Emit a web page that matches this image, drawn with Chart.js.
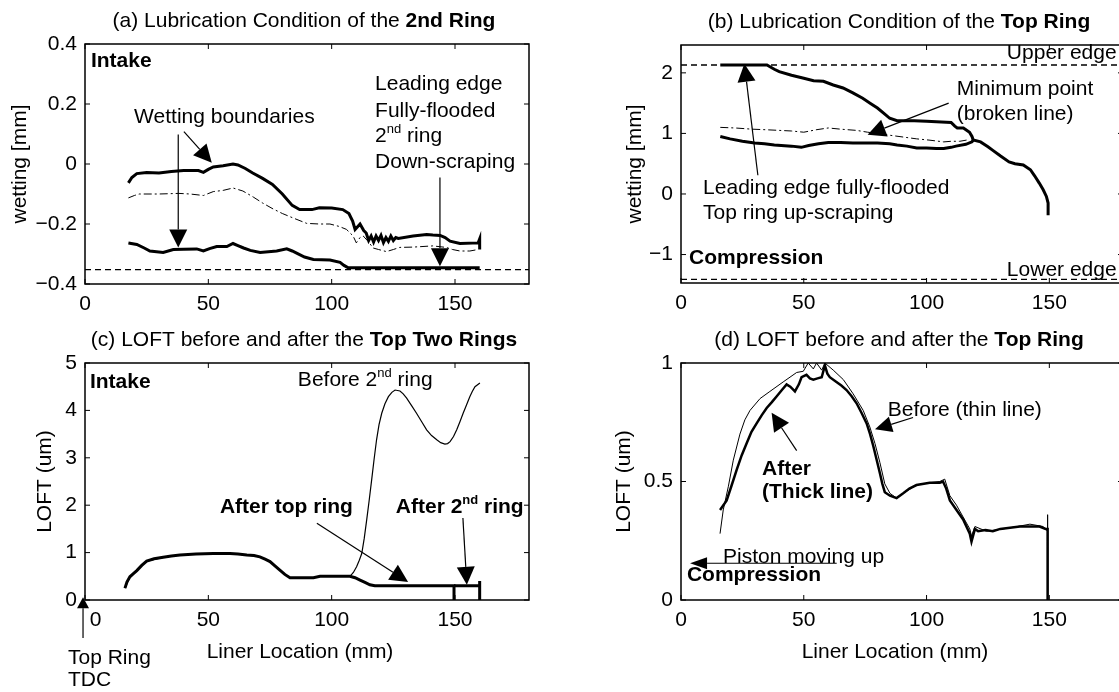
<!DOCTYPE html>
<html>
<head>
<meta charset="utf-8">
<script src="https://cdn.jsdelivr.net/npm/chart.js@4.4.1/dist/chart.umd.min.js"></script>
<style>
  html, body { margin: 0; padding: 0; background: #fff; overflow: hidden; }
  #wrap { position: relative; width: 1119px; height: 692px; overflow: hidden; }
  #wrap canvas { position: absolute; left: 0; top: 0; }
</style>
</head>
<body>
<div id="wrap">
  <canvas id="pa" width="1140" height="692"></canvas>
  <canvas id="pb" width="1140" height="692"></canvas>
  <canvas id="pc" width="1140" height="692"></canvas>
  <canvas id="pd" width="1140" height="692"></canvas>
</div>
<script>
// ---- data ----
const ticksX = [0, 50, 100, 150];
const ticksYA = [-0.4, -0.2, 0, 0.2, 0.4];
const ticksYB = [-1, 0, 1, 2];
const ticksYC = [0, 1, 2, 3, 4, 5];
const ticksYD = [0, 0.5, 1];

// (a) 2nd ring wetting
const upperA = [[17.6,-0.063],[19,-0.045],[21,-0.032],[25,-0.028],[30,-0.03],[35,-0.025],[40,-0.022],[46,-0.022],[48,-0.028],[50,-0.018],[52,-0.01],[56,-0.006],[60,0],[62,-0.003],[65,-0.015],[68,-0.03],[72,-0.048],[76,-0.068],[80,-0.1],[84,-0.138],[87,-0.152],[92,-0.152],[95,-0.146],[100,-0.147],[104.5,-0.152],[107,-0.165],[108.5,-0.19],[109.5,-0.218],[111.5,-0.2],[113,-0.222],[114,-0.23],[115,-0.255],[116,-0.24],[117,-0.26],[118,-0.24],[119,-0.255],[120,-0.238],[121,-0.262],[122,-0.245],[123,-0.258],[124,-0.24],[125,-0.255],[126,-0.245],[127,-0.248],[133,-0.24],[138.5,-0.235],[141,-0.237],[144,-0.238],[146,-0.245],[148,-0.257],[152,-0.265],[159.4,-0.263],[160,-0.25],[160,-0.285]];
const midA = [[17.6,-0.113],[20,-0.105],[22,-0.1],[30,-0.1],[38,-0.098],[42.6,-0.1],[48,-0.105],[52,-0.092],[56,-0.088],[60,-0.08],[64,-0.09],[68.2,-0.11],[72,-0.13],[76.3,-0.15],[80,-0.165],[84.4,-0.18],[89.9,-0.198],[95,-0.2],[99.3,-0.2],[103,-0.208],[106,-0.218],[108.7,-0.24],[110,-0.263],[111.5,-0.245],[112.8,-0.24],[115,-0.26],[116.8,-0.28],[119,-0.285],[122.2,-0.292],[125,-0.285],[127.6,-0.278],[133,-0.277],[141,-0.273],[146.4,-0.278],[149,-0.285],[152,-0.29],[156,-0.29],[159.4,-0.285]];
const lowerA = [[17.6,-0.263],[21,-0.268],[24,-0.28],[26.3,-0.29],[31.7,-0.295],[35.8,-0.285],[40,-0.284],[45.3,-0.283],[48,-0.29],[50.5,-0.282],[53.4,-0.275],[57.5,-0.275],[60,-0.265],[62,-0.272],[64.3,-0.28],[67,-0.288],[71,-0.295],[77.7,-0.29],[81.8,-0.283],[84,-0.29],[85.8,-0.297],[89,-0.31],[92.6,-0.318],[99.3,-0.32],[103.4,-0.328],[105,-0.338],[106.7,-0.346],[160,-0.346]];
const edgeA = [[0,-0.352],[180,-0.352]];

// (b) top ring wetting
const upperB = [[16,2.13],[35,2.13],[38,2.06],[40,2.02],[45,1.96],[50,1.91],[54,1.87],[58,1.86],[62,1.8],[66,1.75],[70,1.67],[74,1.58],[77,1.5],[80,1.42],[83,1.32],[85,1.25],[88,1.21],[95,1.21],[100,1.2],[106,1.19],[110,1.18],[111.5,1.12],[112.5,1.09],[115,1.09],[117.5,1.02],[118.5,0.95],[119,0.89],[122,0.86],[125,0.78],[127,0.72],[130,0.63],[133.6,0.53],[136,0.5],[139.4,0.48],[142.3,0.4],[144,0.3],[145.9,0.18],[147.5,0.07],[148.8,-0.04],[149.5,-0.15],[149.5,-0.35]];
const lowerB = [[16,0.95],[20,0.91],[25,0.87],[30,0.84],[34,0.83],[38,0.81],[45,0.79],[49,0.77],[52,0.8],[56,0.83],[60,0.85],[65,0.85],[70,0.84],[75,0.84],[80,0.84],[85,0.83],[88,0.81],[92,0.79],[96,0.76],[100,0.76],[104,0.75],[107,0.75],[110,0.77],[112,0.79],[116,0.82],[118.5,0.86],[119,0.89]];
const midB = [[16,1.1],[22,1.09],[29,1.07],[35,1.06],[40,1.05],[45,1.04],[50,1.02],[55,1.06],[60,1.09],[65,1.07],[71.5,1.05],[76,1.02],[80,1],[85,0.97],[90.5,0.94],[96,0.91],[101,0.89],[107,0.86],[110,0.87],[113.5,0.87],[116.3,0.89]];
const upperEdgeB = [[0,2.13],[180,2.13]];
const lowerEdgeB = [[0,-1.41],[180,-1.41]];

// (c) LOFT, top two rings
const afterTopC = [[16.2,0.25],[17,0.38],[18.2,0.49],[19.5,0.55],[21,0.62],[23,0.73],[25,0.82],[28,0.87],[31.7,0.9],[35,0.93],[38.5,0.95],[45,0.97],[52,0.98],[58.8,0.98],[62,0.97],[65.6,0.95],[68.5,0.94],[70.9,0.91],[73,0.86],[75,0.81],[77,0.72],[79,0.63],[81,0.54],[83.1,0.47],[92.6,0.47],[95.3,0.5],[107.4,0.5],[109.5,0.47],[111.5,0.42],[113.5,0.37],[115.5,0.32],[117.5,0.3],[149.6,0.3],[149.6,0]];
const after2ndC = [[149.6,0.3],[160,0.3],[160,0.4],[160,0]];
const before2ndC = [[16.2,0.25],[18.2,0.49],[21,0.62],[25,0.82],[31.7,0.9],[38.5,0.95],[45,0.97],[52,0.98],[58.8,0.98],[65.6,0.95],[70.9,0.91],[75,0.81],[79,0.63],[83.1,0.47],[92.6,0.47],[95.3,0.5],[107.4,0.5],[108.8,0.58],[110.1,0.7],[111.2,0.84],[112.2,0.98],[113.2,1.3],[114.2,1.69],[115.2,2.1],[116.2,2.53],[117.2,2.97],[118.2,3.38],[119.2,3.7],[120.3,3.94],[121.6,4.14],[123,4.29],[124.4,4.38],[125.7,4.43],[127.7,4.41],[129,4.35],[130.4,4.26],[132.4,4.1],[134.4,3.94],[136.5,3.76],[138.5,3.59],[140.5,3.47],[142.6,3.38],[144.2,3.32],[145.9,3.29],[147,3.3],[148,3.34],[149.4,3.45],[150.7,3.59],[152,3.76],[153.3,3.94],[154.7,4.12],[156,4.29],[157,4.4],[158.1,4.5],[160.1,4.58]];

// (d) LOFT, top ring
const afterD = [[15.9,0.38],[18.6,0.42],[20.5,0.48],[22.7,0.55],[24.7,0.61],[26.7,0.66],[28.7,0.71],[30.8,0.745],[32.9,0.78],[34.9,0.81],[37,0.835],[39,0.86],[41,0.885],[43,0.91],[44.5,0.9],[46.4,0.88],[48,0.91],[49.1,0.94],[51.1,0.95],[52.5,0.935],[53.9,0.93],[55.6,0.935],[57.3,0.94],[58.6,0.99],[59.6,0.955],[60.6,0.94],[63.3,0.92],[65.3,0.905],[67.4,0.886],[69.5,0.86],[71.5,0.83],[73.5,0.79],[75.6,0.745],[77,0.7],[78.3,0.65],[79.6,0.595],[81,0.535],[82,0.49],[83,0.455],[85.1,0.44],[87.8,0.43],[90.5,0.45],[93,0.47],[95.9,0.485],[101.3,0.495],[105.4,0.495],[106.7,0.5],[108,0.47],[109.5,0.42],[112.2,0.38],[114.9,0.34],[117.6,0.28],[118.3,0.246],[119.7,0.3],[121,0.29],[124,0.295],[127,0.29],[130,0.3],[134,0.305],[138,0.31],[142,0.31],[146,0.31],[148.5,0.3],[149.3,0.3],[149.3,0]];
const beforeD = [[15.9,0.28],[17.2,0.38],[19.3,0.48],[21.3,0.59],[24,0.7],[26,0.76],[28.1,0.8],[32.2,0.85],[36.2,0.88],[41.6,0.92],[47.1,0.96],[49.8,0.965],[51.8,1],[53.9,0.975],[55.2,1],[57.3,0.97],[58.6,1],[62,0.97],[66.1,0.93],[70.1,0.87],[74.2,0.8],[76.9,0.73],[79,0.66],[81,0.58],[83,0.49],[85.1,0.45],[87.8,0.43],[90.5,0.45],[95.9,0.485],[101.3,0.495],[105.4,0.5],[107.4,0.51],[109.5,0.44],[112.2,0.4],[114.9,0.35],[117.6,0.3],[118.3,0.27],[119.7,0.31],[124.4,0.29],[131.2,0.3],[137,0.31],[142.1,0.32],[147.5,0.31],[149.3,0.29],[149.3,0.36],[149.3,0]];

// ---- drawing helpers ----
const FF = '"Liberation Sans", Arial, Helvetica, sans-serif';
const FS = 21;
const CW = 1140, CH = 692, AXW = 70, AXH = 40;

const fmt = (v) => String(v).replace("-", "\u2212");

// *bold* and ^sup^ markup
function parse(s) {
  const out = [];
  let b = false, sup = false, cur = "";
  for (const ch of s) {
    if (ch === "*" || ch === "^") {
      if (cur) out.push({ t: cur, b, sup });
      cur = "";
      if (ch === "*") b = !b; else sup = !sup;
    } else cur += ch;
  }
  if (cur) out.push({ t: cur, b, sup });
  return out;
}

function drawText(ctx, s, x, y, align) {
  const parts = parse(s);
  const fontOf = (p) => `${p.b ? "bold " : ""}${p.sup ? Math.round(FS * 0.62) : FS}px ${FF}`;
  let w = 0;
  parts.forEach((p) => { ctx.font = fontOf(p); p.w = ctx.measureText(p.t).width; w += p.w; });
  let cx = align === "center" ? x - w / 2 : x;
  ctx.textBaseline = "middle";
  ctx.textAlign = "left";
  parts.forEach((p) => {
    ctx.font = fontOf(p);
    ctx.fillText(p.t, cx, p.sup ? y - FS * 0.32 : y);
    cx += p.w;
  });
}

function arrow(ctx, x1, y1, x2, y2, hl = 18, hw = 9) {
  const ang = Math.atan2(y2 - y1, x2 - x1);
  const bx = x2 - hl * Math.cos(ang), by = y2 - hl * Math.sin(ang);
  ctx.lineWidth = 1.2;
  ctx.beginPath();
  ctx.moveTo(x1, y1);
  ctx.lineTo(bx, by);
  ctx.stroke();
  ctx.beginPath();
  ctx.moveTo(x2, y2);
  ctx.lineTo(bx + hw * Math.sin(ang), by - hw * Math.cos(ang));
  ctx.lineTo(bx - hw * Math.sin(ang), by + hw * Math.cos(ang));
  ctx.closePath();
  ctx.fill();
}

// annotations, positioned in data units
const DECO = {
  pa: {
    title: "(a) Lubrication Condition of the *2nd Ring*", ylab: "wetting [mm]", ylx: -65,
    texts: [[2.4, 0.342, "*Intake*"], [19.9, 0.155, "Wetting boundaries"], [117.6, 0.265, "Leading edge"],
            [117.6, 0.175, "Fully-flooded"], [117.6, 0.092, "2^nd^ ring"], [117.6, 0.005, "Down-scraping"]],
    arrows: [[37.8, 0.098, 37.8, -0.278], [40.1, 0.108, 51.4, 0.004], [143.9, -0.045, 143.9, -0.341]],
  },
  pb: {
    title: "(b) Lubrication Condition of the *Top Ring*", ylab: "wetting [mm]", ylx: -46,
    texts: [[132.7, 2.33, "Upper edge"], [132.7, -1.256, "Lower edge"], [112.3, 1.735, "Minimum point"],
            [112.3, 1.32, "(broken line)"], [9, 0.1, "Leading edge fully-flooded"], [9, -0.31, "Top ring up-scraping"],
            [3.3, -1.06, "*Compression*"]],
    arrows: [[31.3, 0.31, 25.8, 2.15], [109, 1.5, 76, 0.98]],
  },
  pc: {
    title: "(c) LOFT before and after the *Top Two Rings*", ylab: "LOFT (um)", ylx: -40, xlab: "Liner Location (mm)",
    texts: [[2, 4.6, "*Intake*"], [86.3, 4.64, "Before 2^nd^ ring"], [54.7, 1.96, "*After top ring*"],
            [126, 1.96, "*After 2^nd^ ring*"], [-6.9, -1.22, "Top Ring"], [-6.9, -1.69, "TDC"]],
    arrows: [[94, 1.62, 131, 0.38], [153.2, 1.73, 154.8, 0.32], [-0.8, -0.8, -0.8, 0.06, 11, 6]],
  },
  pd: {
    title: "(d) LOFT before and after the *Top Ring*", ylab: "LOFT (um)", ylx: -57, xlab: "Liner Location (mm)",
    texts: [[84.2, 0.8, "Before (thin line)"], [33, 0.55, "*After*"], [33, 0.456, "*(Thick line)*"],
            [17.1, 0.18, "Piston moving up"], [2.4, 0.105, "*Compression*"]],
    arrows: [[94.5, 0.77, 79, 0.72, 17, 8], [47.1, 0.63, 36.9, 0.79], [63.4, 0.155, 3.7, 0.155, 17, 6]],
  },
};

const decoPlugin = {
  id: "deco",
  afterDraw(chart) {
    const d = DECO[chart.canvas.id];
    const { ctx, chartArea: a } = chart;
    const sx = chart.scales.x, sy = chart.scales.y;
    ctx.save();
    ctx.strokeStyle = "#000";
    ctx.fillStyle = "#000";

    // matlab style box with inward ticks
    ctx.lineWidth = 1.5;
    ctx.strokeRect(a.left, a.top, a.right - a.left, a.bottom - a.top);
    ctx.lineWidth = 1;
    ctx.beginPath();
    sx.ticks.forEach((t) => {
      const px = sx.getPixelForValue(t.value);
      ctx.moveTo(px, a.bottom); ctx.lineTo(px, a.bottom - 5);
      ctx.moveTo(px, a.top); ctx.lineTo(px, a.top + 5);
    });
    sy.ticks.forEach((t) => {
      const py = sy.getPixelForValue(t.value);
      ctx.moveTo(a.left, py); ctx.lineTo(a.left + 5, py);
      ctx.moveTo(a.right, py); ctx.lineTo(a.right - 5, py);
    });
    ctx.stroke();

    d.texts.forEach(([xv, yv, s]) => drawText(ctx, s, sx.getPixelForValue(xv), sy.getPixelForValue(yv), "left"));
    d.arrows.forEach(([x1, y1, x2, y2, hl, hw]) =>
      arrow(ctx, sx.getPixelForValue(x1), sy.getPixelForValue(y1), sx.getPixelForValue(x2), sy.getPixelForValue(y2), hl, hw));

    const cx = (a.left + a.right) / 2;
    drawText(ctx, d.title, cx - 3, a.top - 23, "center");
    if (d.xlab) drawText(ctx, d.xlab, cx - 7, a.bottom + 52, "center");

    ctx.translate(a.left + d.ylx, (a.top + a.bottom) / 2);
    ctx.rotate(-Math.PI / 2);
    drawText(ctx, d.ylab, 0, 0, "center");
    ctx.restore();
  },
};

const line = (pts, width, dash) => ({
  data: pts.map(([x, y]) => ({ x, y })),
  borderColor: "#000",
  borderWidth: width,
  borderDash: dash || [],
  pointRadius: 0,
  fill: false,
  tension: 0,
});

function panel(id, box, yMin, yMax, yTicks, datasets, xCallback) {
  const tickFont = { family: FF, size: FS };
  new Chart(document.getElementById(id), {
    type: "line",
    data: { datasets },
    options: {
      responsive: false,
      animation: false,
      events: [],
      layout: { padding: { left: box.l - AXW, top: box.t, right: CW - box.r, bottom: CH - box.b - AXH } },
      plugins: { legend: { display: false }, tooltip: { enabled: false } },
      scales: {
        x: {
          type: "linear", min: 0, max: 180,
          grid: { display: false, drawTicks: false }, border: { display: false },
          afterBuildTicks: (s) => { s.ticks = ticksX.map((v) => ({ value: v })); },
          afterFit: (s) => { s.height = AXH; },
          ticks: { color: "#000", font: tickFont, padding: 8, maxRotation: 0, autoSkip: false, callback: xCallback || fmt },
        },
        y: {
          type: "linear", min: yMin, max: yMax,
          grid: { display: false, drawTicks: false }, border: { display: false },
          afterBuildTicks: (s) => { s.ticks = yTicks.map((v) => ({ value: v })); },
          afterFit: (s) => { s.width = AXW; },
          ticks: { color: "#000", font: tickFont, padding: 8, autoSkip: false, callback: fmt },
        },
      },
    },
    plugins: [decoPlugin],
  });
}

const dashDot = [8, 3, 2, 3];
const dashed = [6, 4];

panel("pa", { l: 85, r: 529, t: 44, b: 284 }, -0.4, 0.4, ticksYA, [
  line(upperA, 3), line(lowerA, 3), line(midA, 1, dashDot), line(edgeA, 1.3, dashed),
]);

panel("pb", { l: 681, r: 1123, t: 45, b: 283 }, -1.47, 2.46, ticksYB, [
  line(upperB, 3), line(lowerB, 3), line(midB, 1, dashDot),
  line(upperEdgeB, 1.3, dashed), line(lowerEdgeB, 1.3, dashed),
]);

panel("pc", { l: 85, r: 529, t: 363, b: 600 }, 0, 5, ticksYC, [
  line(afterTopC, 3), line(after2ndC, 3), line(before2ndC, 1.2),
], (v) => (v === 0 ? "\u2002\u20020" : fmt(v)));

panel("pd", { l: 681, r: 1123, t: 363, b: 600 }, 0, 1, ticksYD, [
  line(afterD, 2.5), line(beforeD, 1),
]);
</script>
</body>
</html>
